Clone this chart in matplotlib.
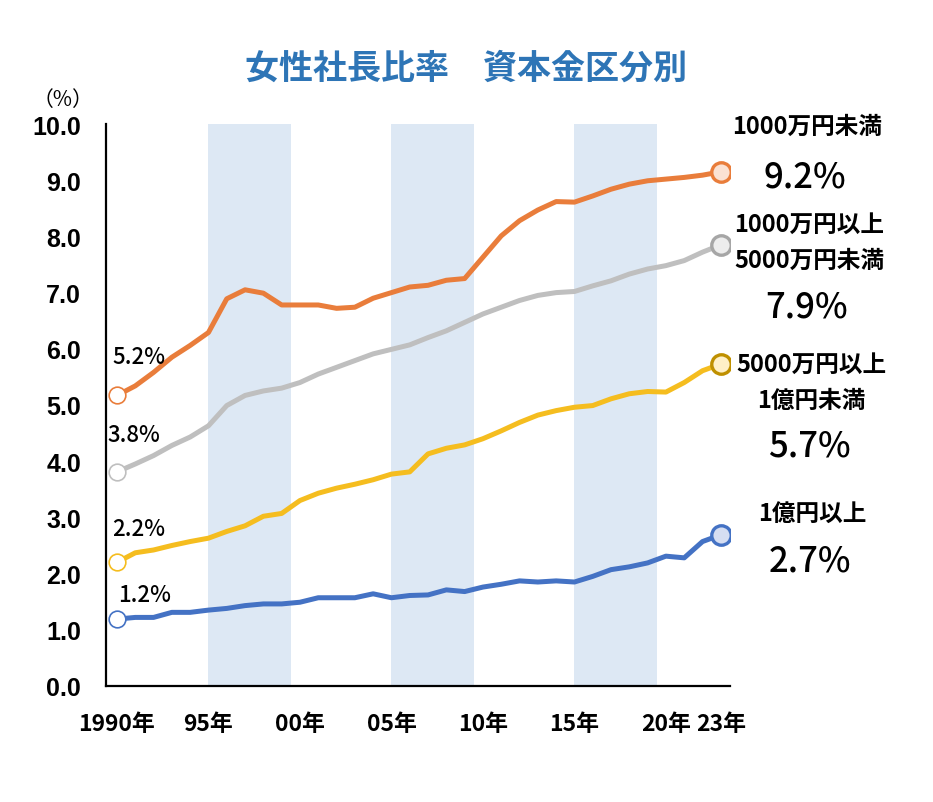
"""
女性社長比率 資本金区分別 - line chart
"""
import matplotlib
matplotlib.use("Agg")
import matplotlib.pyplot as plt

plt.rcParams['font.family'] = ['Noto Sans CJK JP', 'DejaVu Sans']

# data
years = list(range(1990, 2024))
under_10m = [5.17, 5.34, 5.58, 5.85, 6.06, 6.29, 6.89, 7.05, 6.99, 6.78,
             6.78, 6.78, 6.72, 6.74, 6.90, 7.00, 7.10, 7.13, 7.22, 7.25,
             7.63, 8.01, 8.28, 8.47, 8.62, 8.61, 8.72, 8.84, 8.93, 8.99,
             9.02, 9.05, 9.09, 9.15]
m10_50 = [3.81, 3.95, 4.10, 4.28, 4.43, 4.63, 4.99, 5.17, 5.25, 5.30,
          5.40, 5.55, 5.67, 5.79, 5.91, 5.99, 6.07, 6.20, 6.32, 6.47,
          6.62, 6.74, 6.86, 6.95, 7.00, 7.02, 7.12, 7.21, 7.33, 7.42,
          7.48, 7.57, 7.72, 7.85]
m50_100 = [2.20, 2.37, 2.42, 2.50, 2.57, 2.63, 2.75, 2.85, 3.02, 3.07,
           3.30, 3.43, 3.52, 3.59, 3.67, 3.77, 3.81, 4.13, 4.23, 4.29,
           4.40, 4.54, 4.69, 4.82, 4.90, 4.96, 4.99, 5.11, 5.20, 5.24,
           5.23, 5.40, 5.61, 5.73]
over_100m = [1.19, 1.22, 1.22, 1.31, 1.31, 1.35, 1.38, 1.43, 1.46, 1.46,
             1.49, 1.57, 1.57, 1.57, 1.64, 1.57, 1.61, 1.62, 1.71, 1.68,
             1.76, 1.81, 1.87, 1.85, 1.87, 1.85, 1.95, 2.07, 2.12, 2.19,
             2.31, 2.28, 2.57, 2.69]

tick_years = [1990, 1995, 2000, 2005, 2010, 2015, 2020, 2023]
tick_labels = ['1990年', '95年', '00年', '05年', '10年', '15年', '20年', '23年']
band_starts = [1995, 2005, 2015]

start_labels = ['5.2%', '3.8%', '2.2%', '1.2%']
cat_labels = ['1000万円未満', '1000万円以上\n5000万円未満', '5000万円以上\n1億円未満', '1億円以上']
end_labels = ['9.2%', '7.9%', '5.7%', '2.7%']

series = [under_10m, m10_50, m50_100, over_100m]
line_colors = ['#E97D3B', '#BFBFBF', '#F5BD1F', '#4472C4']
edge_colors = ['#E97D3B', '#A6A6A6', '#BF9000', '#4472C4']
fill_colors = ['#FBE2D3', '#EDEDED', '#FFF0C7', '#D6DEF2']

fig = plt.figure(figsize=(9.33, 8.03), dpi=100)
ax = fig.add_axes([0.1136, 0.1445, 0.6688, 0.6998])

for b in band_starts:
    ax.axvspan(b, b + 4.5, color='#DDE8F4', lw=0, zorder=0)

for vals, lc, ec, fc in zip(series, line_colors, edge_colors, fill_colors):
    ax.plot(years, vals, color=lc, lw=3.6, zorder=3, solid_capstyle='round')
    # start marker: hollow ring
    ax.plot(years[0], vals[0], 'o', ms=12, mfc='white', mec=lc, mew=1.2, zorder=4)
    # end marker: filled ring
    ax.plot(years[-1], vals[-1], 'o', ms=14, mfc=fc, mec=ec, mew=2.4, zorder=4)

# start value labels
start_offsets = [(1.2, 0.7), (0.9, 0.66), (1.2, 0.6), (1.5, 0.43)]
for vals, lab, (dx, dy) in zip(series, start_labels, start_offsets):
    ax.text(years[0] + dx, vals[0] + dy, lab, fontsize=16, fontweight='medium',
            ha='center', va='center', zorder=5)

ax.set_xlim(1989.4, 2023.5)
ax.set_ylim(0, 10)
ax.set_yticks([i for i in range(11)])
ax.set_yticklabels([f'{i:.1f}' for i in range(11)], fontsize=18, fontweight='bold',
                   family=['Liberation Sans', 'DejaVu Sans'])
ax.set_xticks(tick_years)
ax.set_xticklabels(tick_labels, fontsize=16.5, fontweight='bold')
ax.tick_params(axis='both', length=0)
ax.tick_params(axis='y', pad=18)
ax.tick_params(axis='x', pad=19)

for s in ['top', 'right']:
    ax.spines[s].set_visible(False)
for s in ['left', 'bottom']:
    ax.spines[s].set_linewidth(1.6)
    ax.spines[s].set_color('black')

# title and unit
fig.text(0.499, 0.915, '女性社長比率　資本金区分別', fontsize=24.5, fontweight='bold',
         color='#2E75B6', ha='center', va='center')
fig.text(0.068, 0.876, '（%）', fontsize=15, ha='center', va='center')

# right side labels (figure pixel positions converted)
W, H = 933, 803
cat_pos = [(807, 127), (809, 243), (811, 383), (812, 515)]
val_pos = [(805, 178), (807, 308), (809, 447), (810, 562)]
for (cx, cy), lab in zip(cat_pos, cat_labels):
    fig.text(cx / W, 1 - cy / H, lab, fontsize=17, fontweight='bold',
             ha='center', va='center', linespacing=1.65)
for (vx, vy), lab in zip(val_pos, end_labels):
    fig.text(vx / W, 1 - vy / H, lab, fontsize=25, fontweight='medium',
             ha='center', va='center')

fig.savefig('out.png', dpi=100)
